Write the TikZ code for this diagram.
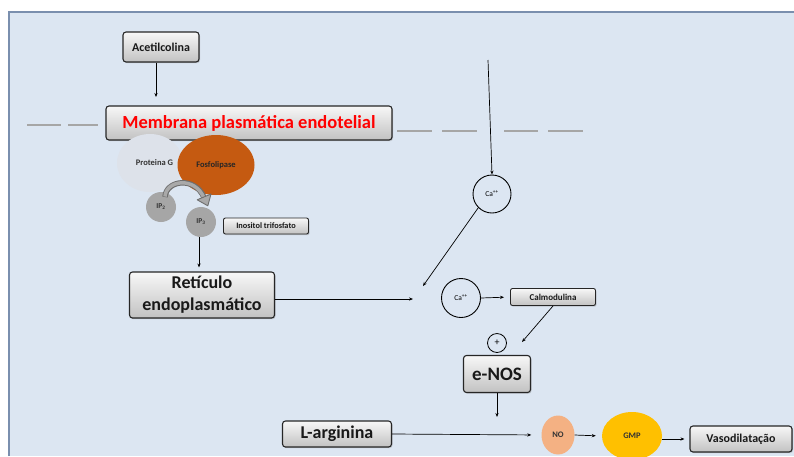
\documentclass[tikz,border=0pt]{standalone}
\usepackage{fontspec}
\setmainfont{Carlito}
\usetikzlibrary{arrows.meta,shadows,shapes.geometric}
\definecolor{panel}{HTML}{DCE6F2}
\definecolor{panelborder}{HTML}{7A8FAE}
\definecolor{dashgray}{HTML}{A6A6A6}
\definecolor{protg}{HTML}{DDE2EA}
\definecolor{fosfo}{HTML}{C55A11}
\definecolor{ipgray}{HTML}{A6A6A6}
\definecolor{nocol}{HTML}{F4B183}
\definecolor{gmpcol}{HTML}{FFC000}
\definecolor{boxborder}{HTML}{262626}
\definecolor{curvefill}{HTML}{A9A9A9}
\definecolor{curveline}{HTML}{6E6E6E}
\begin{document}
\begin{tikzpicture}[x=1pt,y=-1pt,
  gbox/.style={draw=boxborder, line width=1.1pt, rounded corners=3pt,
    top color=gray!6, bottom color=gray!48,
    drop shadow={shadow xshift=1pt,shadow yshift=-1.2pt,opacity=0.35},
    inner sep=0pt, align=center, text=black!90},
  sbox/.style={gbox, line width=0.9pt, rounded corners=2pt},
  arr/.style={-{Stealth[length=4pt,width=3.2pt]}, line width=0.7pt, black},
  memb/.style={dashgray, line width=1.2pt},
  ion/.style={circle, draw=black, line width=0.9pt, inner sep=0pt, minimum size=38pt, font=\fontsize{7.5}{8}\selectfont},
  blob/.style={ellipse, inner sep=0pt, font=\bfseries\fontsize{8.5}{10}\selectfont}
]
\useasboundingbox (0,0) rectangle (794,456);
% panel
\fill[panel] (9,12) rectangle (794,456);
\draw[panelborder, line width=1.2pt] (9,456) -- (9,12) -- (794,12);

% membrane dashes
\draw[memb] (27,125) -- (61,125);
\draw[memb] (68,125) -- (98,125);
\draw[memb] (397,131) -- (432,131);
\draw[memb] (442,131) -- (477,131);
\draw[memb] (504,131) -- (538,131);
\draw[memb] (548,131) -- (583,131);

% nodes
\node[gbox, minimum width=76pt, minimum height=30pt, font=\bfseries\fontsize{12}{14}\selectfont] (acet) at (161,47) {Acetilcolina};
\node[gbox, minimum width=286pt, minimum height=34pt, text=red, font=\bfseries\fontsize{18.5}{21}\selectfont] (memb) at (249,123) {Membrana plasmática endotelial};

\node[blob, fill=protg, minimum width=66pt, minimum height=58pt, text=black!80] (protg) at (150,163) {\hspace*{9pt}Proteina G};
\node[blob, fill=fosfo, minimum width=77pt, minimum height=60pt, text=black!85] (fosfo) at (216,165) {Fosfolipase};

\node[circle, fill=ipgray, minimum size=30pt, inner sep=0pt, font=\bfseries\fontsize{7.5}{8}\selectfont, text=black!80] (ip2) at (161,207) {IP\textsubscript{2}};
\node[circle, fill=ipgray, minimum size=30pt, inner sep=0pt, font=\bfseries\fontsize{7.5}{8}\selectfont, text=black!80] (ip3) at (201,222) {IP\textsubscript{3}};

% curved block arrow IP2 -> IP3
\draw[curveline, line width=5.5pt] (165,197) .. controls (166,180) and (195,176) .. (204,197.5);
\draw[curvefill, line width=3.5pt] (165,196.5) .. controls (166,180) and (195,176) .. (204,198);
\filldraw[fill=curvefill, draw=curveline, line width=0.9pt, line join=round] (197.2,199.8) -- (211,194) -- (207.8,205.8) -- cycle;

\node[sbox, minimum width=85pt, minimum height=16pt, font=\bfseries\fontsize{8.3}{9}\selectfont] (inos) at (266,226) {Inositol trifosfato};

\node[gbox, minimum width=145pt, minimum height=46pt, font=\bfseries\fontsize{18}{22}\selectfont] (ret) at (202,295) {Retículo\\endoplasmático};

\node[ion] (ca1) at (492,194) {Ca\textsuperscript{++}};
\node[ion, minimum size=39pt] (ca2) at (461,298) {Ca\textsuperscript{++}};

\node[sbox, minimum width=85pt, minimum height=17pt, font=\bfseries\fontsize{9}{10}\selectfont] (calm) at (553,297) {Calmodulina};

\node[circle, draw=black, line width=0.8pt, minimum size=19pt, inner sep=0pt, font=\fontsize{10}{11}\selectfont] (plus) at (497,343) {+};

\node[gbox, minimum width=67pt, minimum height=37pt, font=\bfseries\fontsize{19}{22}\selectfont] (enos) at (497,374) {e-NOS};

\node[gbox, minimum width=109pt, minimum height=26pt, font=\bfseries\fontsize{18}{20}\selectfont] (larg) at (337,434) {L-arginina};

\node[blob, fill=nocol, minimum width=33pt, minimum height=39pt, text=black!80] (no) at (558,435) {NO};
\node[blob, fill=gmpcol, minimum width=60pt, minimum height=48pt, text=black!80] (gmp) at (632,436) {GMP};

\node[gbox, minimum width=102pt, minimum height=26pt, font=\bfseries\fontsize{12}{15}\selectfont] (vaso) at (741,439) {Vasodilatação};

% free-end coordinates
\coordinate (catop) at (488,60);
\coordinate (acetend) at (156,97);
\coordinate (retend) at (413,299);
\coordinate (ca1end) at (423,286);
\coordinate (calmend) at (522,342);
\coordinate (enosend) at (497,417);

% connectors
\draw[arr] (acet.south -| acetend) -- (acetend);
\draw[arr] (catop) -- (ca1.north);
\draw[arr] (ca1.225) -- (ca1end);
\draw[arr, shorten >=4pt] (ip3.south -| 199,0) -- (ret.north -| 199,0);
\draw[arr] (ret.east |- retend) -- (retend);
\draw[arr, shorten >=6pt] (ca2.east) -- (calm.west);
\draw[arr] (calm.south) -- (calmend);
\draw[arr] (enos.south) -- (enosend);
\draw[arr, shorten >=10pt] (larg.east) -- (no.west);
\draw[arr, shorten >=6pt] (no.east) -- (gmp.west);
\draw[arr, shorten >=5pt] (gmp.east |- vaso.west) -- (vaso.west);
\end{tikzpicture}
\end{document}
